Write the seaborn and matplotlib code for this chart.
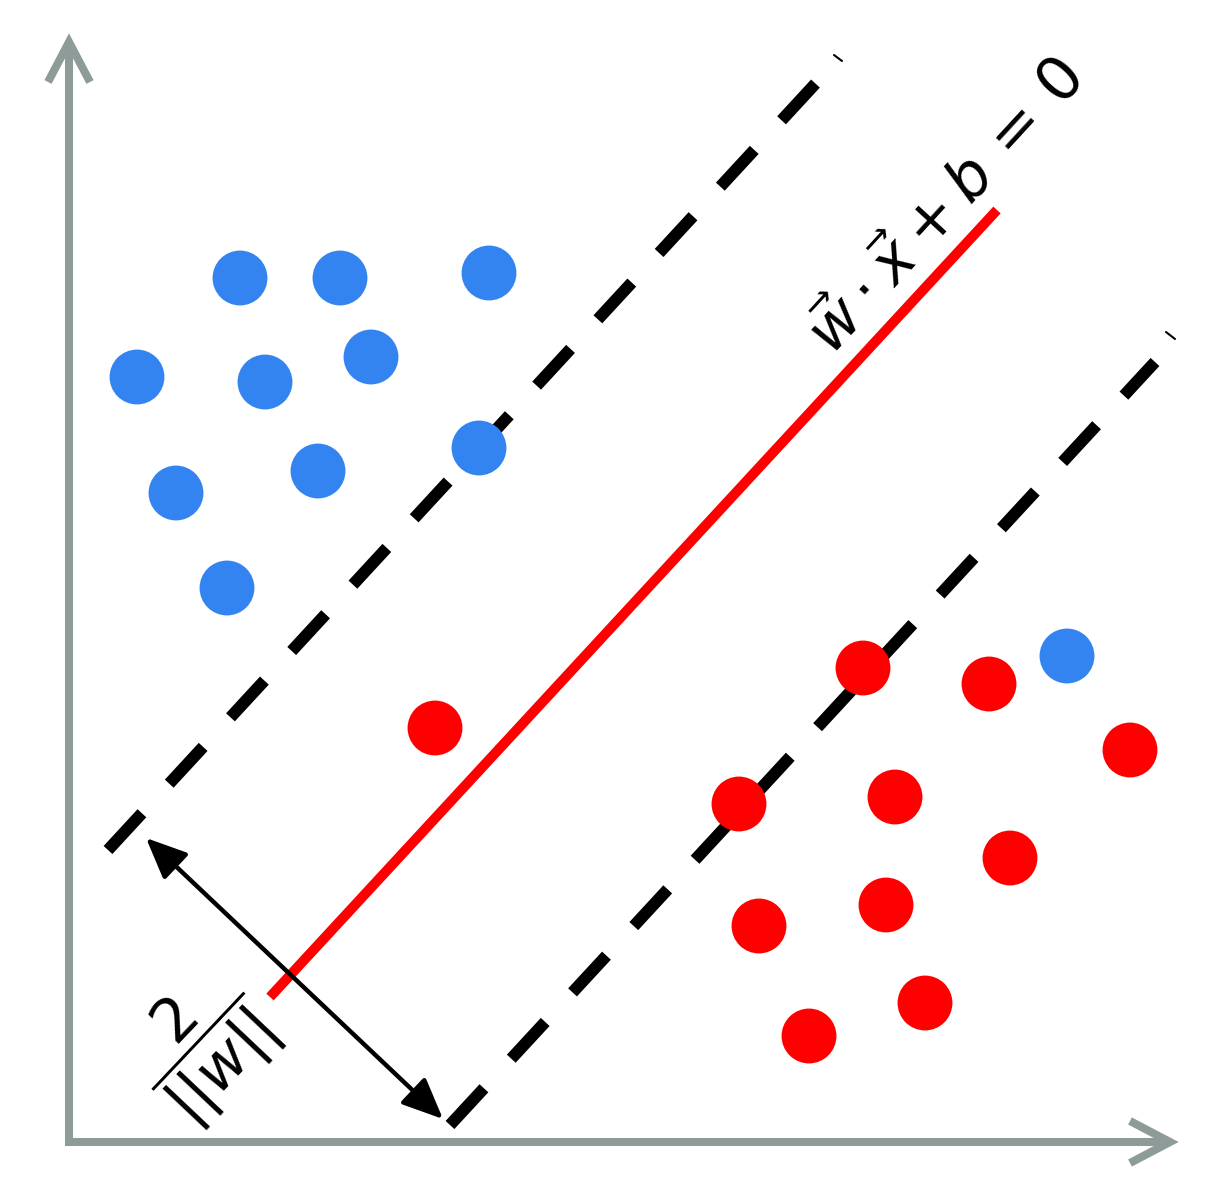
import matplotlib
matplotlib.use("Agg")
import matplotlib.pyplot as plt
import numpy as np
import pandas as pd
import seaborn as sns

# ---- data (pixel coordinates) ----
blue_x = [240, 340, 489, 137, 265, 371, 176, 318, 479, 227, 1067]
blue_y = [278, 278, 273, 377, 382, 357, 493, 471, 448, 588, 656]
red_x = [435, 863, 989, 1130, 739, 895, 1010, 759, 886, 925, 809]
red_y = [728, 668, 684, 750, 804, 797, 858, 926, 905, 1003, 1036]

hyperplane_x = [270, 997]
hyperplane_y = [997, 210]
margin_upper_x = [108, 816]
margin_upper_y = [850, 83]
margin_lower_x = [450, 1155]
margin_lower_y = [1125, 362]

equation_label = r"$\vec{w}\cdot\vec{x}+b\,=\,0$"
margin_label = r"$\dfrac{2}{||w||}$"

BLUE = "#3384f0"
RED = "#ff0000"
GRAY = "#8d9b99"

sns.set_style("white")
plt.rcParams["lines.scale_dashes"] = False
plt.rcParams["font.family"] = ["DejaVu Sans"]

fig = plt.figure(figsize=(12.17, 12.01), dpi=100)
ax = fig.add_axes([0, 0, 1, 1])
ax.set_xlim(0, 1217)
ax.set_ylim(1201, 0)
ax.axis("off")

df = pd.DataFrame({
    "x": blue_x + red_x,
    "y": blue_y + red_y,
    "cls": ["blue"] * len(blue_x) + ["red"] * len(red_x),
})

# axes arrows
ax.plot([69, 69], [1142, 44], color=GRAY, lw=5.8, solid_capstyle="butt", zorder=1)
ax.plot([48, 69, 90], [82, 42, 82], color=GRAY, lw=5.8, solid_joinstyle="miter",
        solid_capstyle="butt", zorder=1)
ax.plot([65, 1168], [1142, 1142], color=GRAY, lw=5.8, solid_capstyle="butt", zorder=1)
ax.plot([1130, 1170, 1130], [1121, 1142, 1163], color=GRAY, lw=5.8,
        solid_joinstyle="miter", solid_capstyle="butt", zorder=1)

# margins (dashed)
dash = (0, (36, 29))
ax.plot(margin_upper_x, margin_upper_y, color="black", lw=8.6,
        linestyle=dash, dash_capstyle="butt", zorder=2)
ax.plot(margin_lower_x, margin_lower_y, color="black", lw=8.6,
        linestyle=dash, dash_capstyle="butt", zorder=2)
ax.plot([834, 842], [55, 61], color="black", lw=1.5, zorder=2)
ax.plot([1166, 1175], [332, 339], color="black", lw=1.5, zorder=2)

# hyperplane
ax.plot(hyperplane_x, hyperplane_y, color=RED, lw=7.2, solid_capstyle="butt", zorder=2)

# points
sns.scatterplot(data=df, x="x", y="y", hue="cls", palette={"blue": BLUE, "red": RED},
                s=1560, linewidth=0, legend=False, ax=ax, zorder=3)

# margin width arrow
ax.annotate("", xy=(146, 838), xytext=(443, 1119),
            arrowprops=dict(arrowstyle="<|-|>,head_length=2.5,head_width=1.1",
                            mutation_scale=10, lw=3.2, color="black",
                            shrinkA=0, shrinkB=0), zorder=4)

# labels
ax.text(948, 208, equation_label, fontsize=44, rotation=47.4, rotation_mode="anchor",
        ha="center", va="center", color="black")
ax.text(203, 1045, margin_label, fontsize=44, rotation=46.6, rotation_mode="anchor",
        ha="center", va="center", color="black")

ax.set_xlabel("")
ax.set_ylabel("")
fig.savefig("out.png", dpi=100, facecolor="white")
